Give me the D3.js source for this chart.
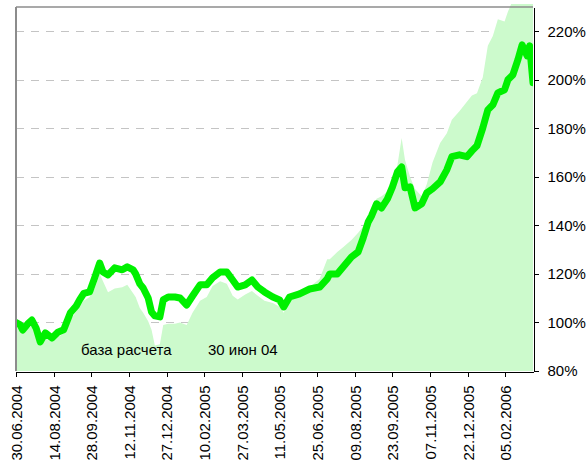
<!DOCTYPE html>
<html>
<head>
<meta charset="utf-8">
<script src="https://cdn.jsdelivr.net/npm/d3@7/dist/d3.min.js"></script>
<style>
  html, body { margin: 0; padding: 0; background: #fff; }
  svg { display: block; font-family: "Liberation Sans", Arial, sans-serif; }
  .axis text { font-size: 15px; fill: #000; }
  .axis path, .axis line { stroke: #000; shape-rendering: crispEdges; }
</style>
</head>
<body>
<svg id="chart" width="586" height="464"></svg>
<script>
/* ── data ──────────────────────────────────────────────────── */
const dates = [
  "2004-06-30","2004-07-05","2004-07-08","2004-07-14","2004-07-19","2004-07-24","2004-07-29","2004-08-04","2004-08-12","2004-08-19","2004-08-26",
  "2004-09-03","2004-09-10","2004-09-14","2004-09-19","2004-09-26","2004-10-02","2004-10-08","2004-10-12",
  "2004-10-18","2004-10-26","2004-11-04","2004-11-10","2004-11-17","2004-11-20","2004-11-25","2004-11-29","2004-12-05","2004-12-09","2004-12-13","2004-12-19","2004-12-23","2004-12-29",
  "2005-01-06","2005-01-12","2005-01-20","2005-01-27","2005-02-05","2005-02-13","2005-02-20","2005-03-01","2005-03-09","2005-03-16","2005-03-22","2005-03-31",
  "2005-04-08","2005-04-15","2005-04-23","2005-05-03","2005-05-11","2005-05-16","2005-05-23","2005-06-04","2005-06-16","2005-06-28",
  "2005-07-07","2005-07-10","2005-07-19","2005-07-26","2005-08-05","2005-08-13","2005-08-19","2005-08-25","2005-08-29","2005-09-04","2005-09-10","2005-09-17","2005-09-23","2005-09-29",
  "2005-10-04","2005-10-08","2005-10-14","2005-10-20","2005-10-28","2005-11-03","2005-11-10","2005-11-19","2005-11-27","2005-12-03","2005-12-12","2005-12-21","2005-12-27",
  "2006-01-02","2006-01-09","2006-01-15","2006-01-21","2006-01-27","2006-02-04","2006-02-08","2006-02-14","2006-02-20","2006-02-25","2006-03-03","2006-03-06","2006-03-10"
];

// thick green line, % of base (30.06.2004 = 100%)
const lineValues = [
  100, 99, 96.9, 99.4, 101, 97.7, 92, 95.7, 93.6, 96, 97,
  104, 106.8, 109.3, 112, 112.6, 118.4, 124.5, 120.8,
  119.6, 122.5, 121.7, 122.9, 121.7, 120, 115.9, 114.2, 110.1, 104.3, 102.7, 102.3, 109.3, 110.5,
  110.5, 110.1, 107.2, 110.9, 115.5, 115.5, 118.4, 120.8, 120.8, 117.5, 114.6, 115.5,
  117.5, 114.6, 112.6, 110.5, 109.3, 106.4, 110.5, 111.8, 113.8, 114.6,
  118, 120, 120, 122.9, 127, 129.1, 134.8, 141.4, 143.9, 148.9, 147.2, 150.9, 155.9, 162.1,
  164.1, 155.5, 155.9, 147.2, 148.9, 153.4, 155.1, 157.9, 162.9, 168.3, 169.1, 168.3, 170.7,
  172.8, 180.2, 187.6, 189.7, 194.6, 195.9, 200, 202.1, 208.3, 214.4, 209.9, 214, 198.8
];

// light green area series
const areaValues = [
  99, 97.5, 95.5, 97.5, 98.5, 95.5, 91, 93.5, 92, 94, 95.5,
  101, 104.5, 107, 109, 110.5, 114, 120, 117,
  112.5, 114, 114.5, 115.5, 112, 110.5, 106, 104, 100.5, 97, 90.5, 91, 99, 99.5,
  99.5, 100, 99, 104, 109, 110.5, 115, 117, 116, 111, 109.5, 111.5,
  113, 111, 109, 108, 106.5, 104, 109, 111.5, 114.5, 118,
  126, 126, 129, 131, 134, 137, 139.5, 143, 146.5, 151, 152, 154, 158, 165,
  176, 167, 160, 155, 152, 157, 166, 174, 178, 183.5, 187, 191, 193.5,
  194.5, 201, 214, 218, 225, 224, 228, 233, 235, 235, 235, 235, 234
];

const xTickLabels = [
  "30.06.2004","14.08.2004","28.09.2004","12.11.2004","27.12.2004","10.02.2005","27.03.2005",
  "11.05.2005","25.06.2005","09.08.2005","23.09.2005","07.11.2005","22.12.2005","05.02.2006"
];
const yTicks = [80, 100, 120, 140, 160, 180, 200, 220];
const notes = ["база расчета", "30 июн 04"];

/* ── layout ───────────────────────────────────────────────── */
const L = 16, R = 533, T = 7, B = 371;
const parseIso = d3.timeParse("%Y-%m-%d");
const parseRu = d3.timeParse("%d.%m.%Y");

const rows = dates.map((d, i) => ({ date: parseIso(d), line: lineValues[i], area: areaValues[i] }));

const x = d3.scaleTime()
  .domain(d3.extent(rows, d => d.date))
  .range([L, R]);
const y = d3.scaleLinear().domain([80, 230]).range([B, T]);

const svg = d3.select("#chart");

svg.append("defs").append("clipPath").attr("id", "plot")
  .append("rect").attr("x", L).attr("y", 4).attr("width", R - L).attr("height", B - 4);

// dashed grid (behind the area)
svg.append("g").selectAll("line")
  .data(yTicks.filter(v => v > 80)).join("line")
  .attr("x1", L).attr("x2", R)
  .attr("y1", d => Math.round(y(d)) + 0.5).attr("y2", d => Math.round(y(d)) + 0.5)
  .attr("stroke", "#c4c4c4").attr("stroke-width", 1)
  .attr("stroke-dasharray", "8,7");

const plot = svg.append("g").attr("clip-path", "url(#plot)");

plot.append("path").datum(rows)
  .attr("fill", "#ccfacc")
  .attr("d", d3.area().x(d => x(d.date)).y0(B).y1(d => y(d.area)));

plot.append("path").datum(rows)
  .attr("fill", "none")
  .attr("stroke", "#00f000")
  .attr("stroke-width", 7)
  .attr("stroke-linejoin", "round")
  .attr("stroke-linecap", "round")
  .attr("d", d3.line().x(d => x(d.date)).y(d => y(d.line)));

// frame: grey left + top
svg.append("line").attr("x1", L).attr("x2", L).attr("y1", T).attr("y2", B)
  .attr("stroke", "#8c8c8c").attr("stroke-width", 2);
svg.append("line").attr("x1", L).attr("x2", R).attr("y1", T).attr("y2", T)
  .attr("stroke", "#8c8c8c").attr("stroke-width", 1.5);

// right axis
svg.append("g").attr("class", "axis")
  .attr("transform", `translate(${R + 0.5},0)`)
  .call(d3.axisRight(y).tickValues(yTicks).tickSize(5).tickSizeOuter(0).tickPadding(9)
    .tickFormat(d => d + "%"));

// bottom axis
const bx = svg.append("g").attr("class", "axis")
  .attr("transform", `translate(0,${B + 0.5})`)
  .call(d3.axisBottom(x).tickValues(xTickLabels.map(parseRu)).tickSize(5).tickSizeOuter(0)
    .tickFormat(d3.timeFormat("%d.%m.%Y")));
bx.selectAll("text")
  .attr("transform", "rotate(-90)")
  .attr("x", -14).attr("y", 0).attr("dy", "0.36em")
  .style("text-anchor", "end");

// notes inside the plot
svg.append("g").selectAll("text")
  .data(notes).join("text")
  .attr("x", (d, i) => [81, 208][i])
  .attr("y", 355)
  .attr("font-size", 15)
  .attr("fill", "#000")
  .text(d => d);
</script>
</body>
</html>
